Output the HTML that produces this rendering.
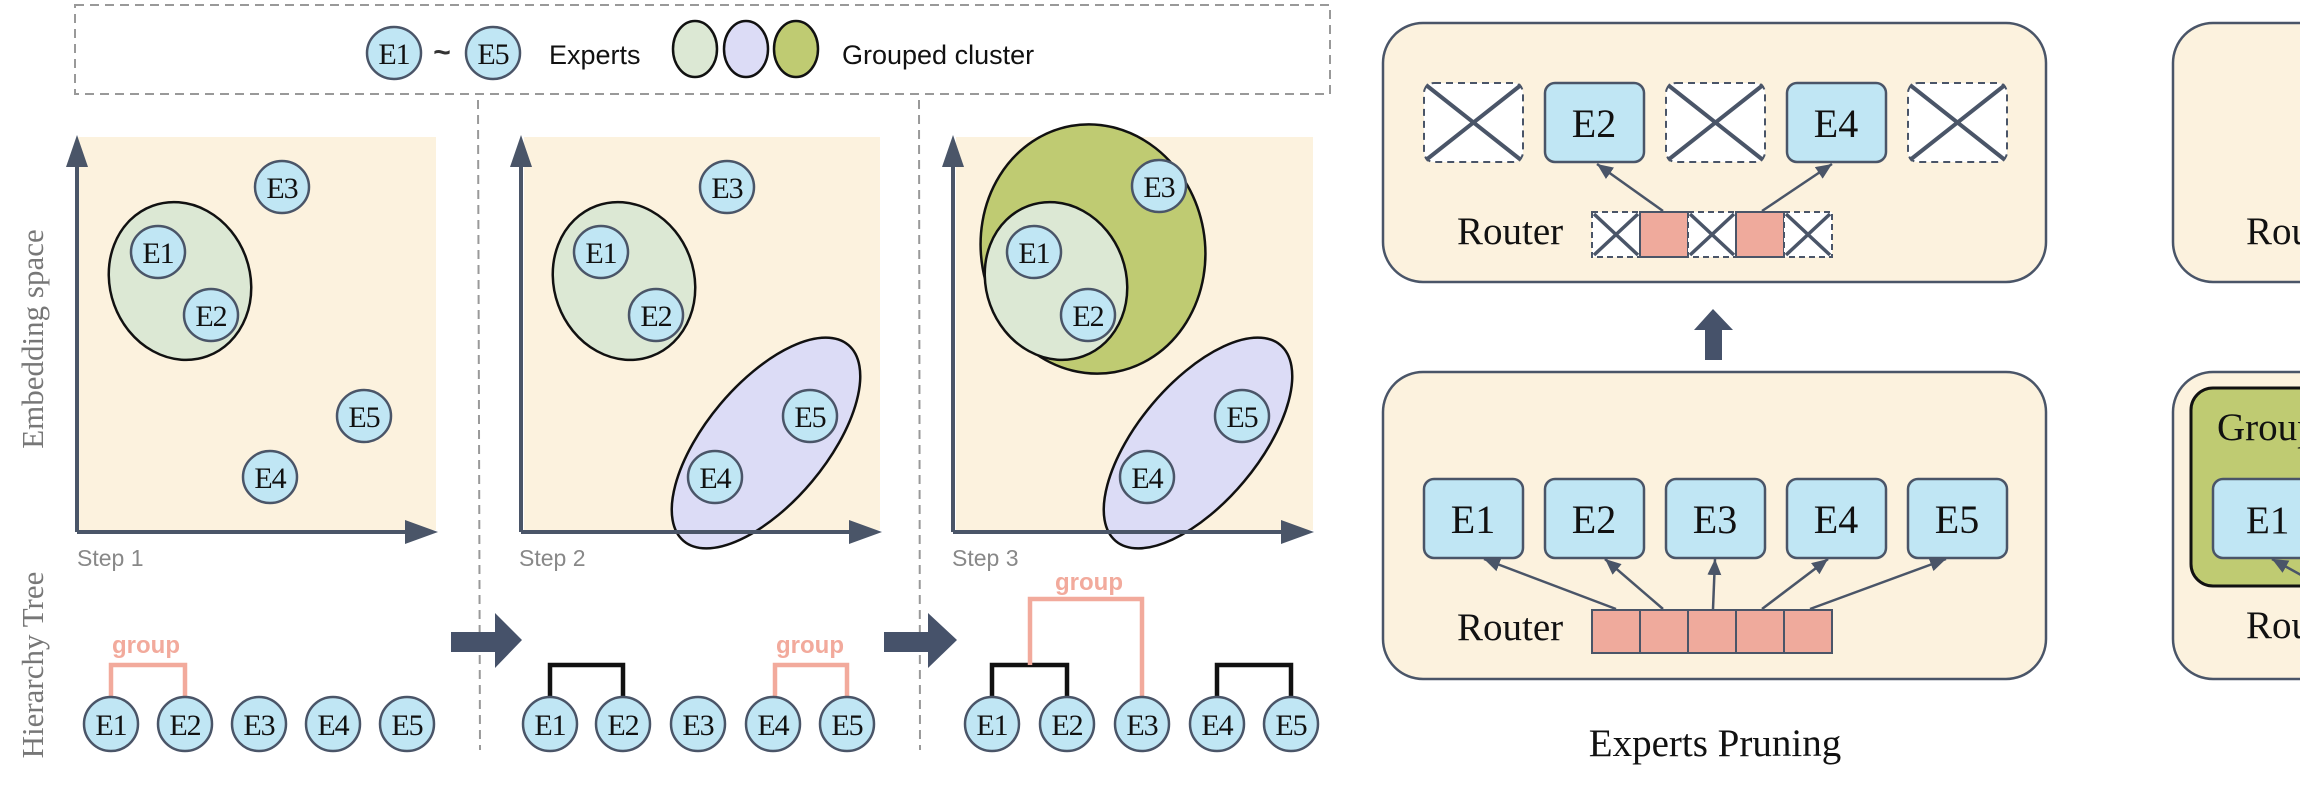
<!DOCTYPE html>
<html><head><meta charset="utf-8"><style>
html,body{margin:0;padding:0;background:#fff;}
svg{display:block;}
.e{fill:#c0e6f4;stroke:#4a5568;stroke-width:2.5;}
.t{font-family:"Liberation Serif",serif;font-size:30px;fill:#111;text-anchor:middle;letter-spacing:-1px;}
.bt{font-family:"Liberation Serif",serif;font-size:40px;fill:#111;text-anchor:middle;}
.big{font-family:"Liberation Serif",serif;font-size:39px;fill:#111;}
.step{font-family:"Liberation Sans",sans-serif;font-size:23px;fill:#888;}
.grp{font-family:"Liberation Sans",sans-serif;font-size:24px;font-weight:bold;fill:#f2aa9c;text-anchor:middle;}
.side{font-family:"Liberation Serif",serif;font-size:31px;fill:#777;text-anchor:middle;}
</style></head><body>
<svg width="2300" height="787" viewBox="0 0 2300 787" xmlns="http://www.w3.org/2000/svg">
<defs>
<marker id="ah" markerWidth="20" markerHeight="20" refX="0" refY="0" orient="auto" markerUnits="userSpaceOnUse" viewBox="-16 -8 20 16">
<path d="M-16,-7 L0,0 L-16,7 z" fill="#4a5568"/>
</marker>
</defs>
<!-- legend -->
<rect x="75" y="5" width="1255" height="89" fill="none" stroke="#999" stroke-width="2" stroke-dasharray="9,6"/>
<ellipse cx="394" cy="53" rx="27" ry="26" class="e"/><text x="394" y="64" class="t">E1</text>
<text x="442" y="62" font-family="Liberation Sans,sans-serif" font-size="30" text-anchor="middle" font-weight="bold" fill="#333">~</text>
<ellipse cx="493" cy="53" rx="27" ry="26" class="e"/><text x="493" y="64" class="t">E5</text>
<text x="549" y="64" font-family="Liberation Sans,sans-serif" font-size="27" fill="#111">Experts</text>
<ellipse cx="695" cy="49" rx="22" ry="28" fill="#dce8d4" stroke="#111" stroke-width="2.5"/>
<ellipse cx="746" cy="49" rx="22" ry="28" fill="#dcdcf6" stroke="#111" stroke-width="2.5"/>
<ellipse cx="796" cy="49" rx="22" ry="28" fill="#bfcb72" stroke="#111" stroke-width="2.5"/>
<text x="842" y="64" font-family="Liberation Sans,sans-serif" font-size="27" fill="#111">Grouped cluster</text>
<!-- separators -->
<line x1="478" y1="100" x2="480" y2="750" stroke="#999" stroke-width="2" stroke-dasharray="9,6"/>
<line x1="919" y1="100" x2="920" y2="750" stroke="#999" stroke-width="2" stroke-dasharray="9,6"/>
<!-- side labels -->
<text class="side" transform="translate(43,339) rotate(-90)">Embedding space</text>
<text class="side" transform="translate(43,665) rotate(-90)">Hierarchy Tree</text>

<!-- Panel 1 -->
<g>
<rect x="78" y="137" width="358" height="393" fill="#fcf2de"/>
<ellipse cx="180" cy="281" rx="70" ry="80" transform="rotate(-20 180 281)" fill="#dce8d4" stroke="#111" stroke-width="2.5"/>
<path d="M77,532 V150" stroke="#4a5568" stroke-width="4" fill="none"/><path d="M66,167 L77,135 L88,167 z" fill="#4a5568"/>
<path d="M77,532 H420" stroke="#4a5568" stroke-width="4" fill="none"/><path d="M405,520 L438,532 L405,544 z" fill="#4a5568"/>
<ellipse cx="282" cy="187" rx="27" ry="26" class="e"/><text x="282" y="198" class="t">E3</text>
<ellipse cx="158" cy="252" rx="27" ry="26" class="e"/><text x="158" y="263" class="t">E1</text>
<ellipse cx="211" cy="315" rx="27" ry="26" class="e"/><text x="211" y="326" class="t">E2</text>
<ellipse cx="364" cy="416" rx="27" ry="26" class="e"/><text x="364" y="427" class="t">E5</text>
<ellipse cx="270" cy="477" rx="27" ry="26" class="e"/><text x="270" y="488" class="t">E4</text>
<text x="77" y="566" class="step">Step 1</text>
</g>
<!-- Panel 2 -->
<g>
<rect x="524" y="137" width="356" height="393" fill="#fcf2de"/>
<ellipse cx="624" cy="281" rx="70" ry="80" transform="rotate(-20 624 281)" fill="#dce8d4" stroke="#111" stroke-width="2.5"/>
<ellipse cx="766" cy="443" rx="128" ry="60" transform="rotate(-50 766 443)" fill="#dcdcf6" stroke="#111" stroke-width="2.5"/>
<path d="M521,532 V150" stroke="#4a5568" stroke-width="4" fill="none"/><path d="M510,167 L521,135 L532,167 z" fill="#4a5568"/>
<path d="M521,532 H864" stroke="#4a5568" stroke-width="4" fill="none"/><path d="M849,520 L882,532 L849,544 z" fill="#4a5568"/>
<ellipse cx="727" cy="187" rx="27" ry="26" class="e"/><text x="727" y="198" class="t">E3</text>
<ellipse cx="601" cy="252" rx="27" ry="26" class="e"/><text x="601" y="263" class="t">E1</text>
<ellipse cx="656" cy="315" rx="27" ry="26" class="e"/><text x="656" y="326" class="t">E2</text>
<ellipse cx="810" cy="416" rx="27" ry="26" class="e"/><text x="810" y="427" class="t">E5</text>
<ellipse cx="715" cy="477" rx="27" ry="26" class="e"/><text x="715" y="488" class="t">E4</text>
<text x="519" y="566" class="step">Step 2</text>
</g>
<!-- Panel 3 -->
<g>
<rect x="956" y="137" width="357" height="393" fill="#fcf2de"/>
<ellipse cx="1093" cy="249" rx="112" ry="125" transform="rotate(-10 1093 249)" fill="#bfcb72" stroke="#111" stroke-width="2.5"/>
<ellipse cx="1056" cy="281" rx="70" ry="80" transform="rotate(-20 1056 281)" fill="#dce8d4" stroke="#111" stroke-width="2.5"/>
<ellipse cx="1198" cy="443" rx="128" ry="60" transform="rotate(-50 1198 443)" fill="#dcdcf6" stroke="#111" stroke-width="2.5"/>
<path d="M953,532 V150" stroke="#4a5568" stroke-width="4" fill="none"/><path d="M942,167 L953,135 L964,167 z" fill="#4a5568"/>
<path d="M953,532 H1296" stroke="#4a5568" stroke-width="4" fill="none"/><path d="M1281,520 L1314,532 L1281,544 z" fill="#4a5568"/>
<ellipse cx="1159" cy="186" rx="27" ry="26" class="e"/><text x="1159" y="197" class="t">E3</text>
<ellipse cx="1034" cy="252" rx="27" ry="26" class="e"/><text x="1034" y="263" class="t">E1</text>
<ellipse cx="1088" cy="315" rx="27" ry="26" class="e"/><text x="1088" y="326" class="t">E2</text>
<ellipse cx="1242" cy="416" rx="27" ry="26" class="e"/><text x="1242" y="427" class="t">E5</text>
<ellipse cx="1147" cy="477" rx="27" ry="26" class="e"/><text x="1147" y="488" class="t">E4</text>
<text x="952" y="566" class="step">Step 3</text>
</g>

<!-- big arrows -->
<path d="M451,632 H495 V613 L522,640 L495,668 V652 H451 z" fill="#46526a"/>
<path d="M884,632 H928 V613 L957,640 L928,668 V652 H884 z" fill="#46526a"/>

<!-- Trees -->
<g fill="none" stroke-width="4.5">
<path d="M111,698 V665 H185 V698" stroke="#f2aa9c"/>
<path d="M550,698 V665 H623 V698" stroke="#111"/>
<path d="M775,698 V665 H847 V698" stroke="#f2aa9c"/>
<path d="M992,698 V665 H1067 V698" stroke="#111"/>
<path d="M1030,665 V599 H1142 V698" stroke="#f2aa9c"/>
<path d="M1217,698 V665 H1291 V698" stroke="#111"/>
</g>
<text x="146" y="653" class="grp">group</text>
<text x="810" y="653" class="grp">group</text>
<text x="1089" y="590" class="grp">group</text>
<g>
<ellipse cx="111" cy="724" rx="27" ry="27" class="e"/><text x="111" y="735" class="t">E1</text>
<ellipse cx="185" cy="724" rx="27" ry="27" class="e"/><text x="185" y="735" class="t">E2</text>
<ellipse cx="259" cy="724" rx="27" ry="27" class="e"/><text x="259" y="735" class="t">E3</text>
<ellipse cx="333" cy="724" rx="27" ry="27" class="e"/><text x="333" y="735" class="t">E4</text>
<ellipse cx="407" cy="724" rx="27" ry="27" class="e"/><text x="407" y="735" class="t">E5</text>
<ellipse cx="550" cy="724" rx="27" ry="27" class="e"/><text x="550" y="735" class="t">E1</text>
<ellipse cx="623" cy="724" rx="27" ry="27" class="e"/><text x="623" y="735" class="t">E2</text>
<ellipse cx="698" cy="724" rx="27" ry="27" class="e"/><text x="698" y="735" class="t">E3</text>
<ellipse cx="773" cy="724" rx="27" ry="27" class="e"/><text x="773" y="735" class="t">E4</text>
<ellipse cx="847" cy="724" rx="27" ry="27" class="e"/><text x="847" y="735" class="t">E5</text>
<ellipse cx="992" cy="724" rx="27" ry="27" class="e"/><text x="992" y="735" class="t">E1</text>
<ellipse cx="1067" cy="724" rx="27" ry="27" class="e"/><text x="1067" y="735" class="t">E2</text>
<ellipse cx="1142" cy="724" rx="27" ry="27" class="e"/><text x="1142" y="735" class="t">E3</text>
<ellipse cx="1217" cy="724" rx="27" ry="27" class="e"/><text x="1217" y="735" class="t">E4</text>
<ellipse cx="1291" cy="724" rx="27" ry="27" class="e"/><text x="1291" y="735" class="t">E5</text>
</g>

<!-- Experts Pruning: top box -->
<rect x="1383" y="23" width="663" height="259" rx="40" fill="#fcf2de" stroke="#4a5568" stroke-width="2.5"/>
<g stroke="#4a5568">
<rect x="1424" y="83" width="99" height="79" rx="10" fill="#fff" stroke-width="2" stroke-dasharray="7,5"/>
<path d="M1426,85 L1521,160 M1521,85 L1426,160" stroke-width="4"/>
<rect x="1545" y="83" width="99" height="79" rx="10" fill="#c0e6f4" stroke-width="2.5"/>
<rect x="1666" y="83" width="99" height="79" rx="10" fill="#fff" stroke-width="2" stroke-dasharray="7,5"/>
<path d="M1668,85 L1763,160 M1763,85 L1668,160" stroke-width="4"/>
<rect x="1787" y="83" width="99" height="79" rx="10" fill="#c0e6f4" stroke-width="2.5"/>
<rect x="1908" y="83" width="99" height="79" rx="10" fill="#fff" stroke-width="2" stroke-dasharray="7,5"/>
<path d="M1910,85 L2005,160 M2005,85 L1910,160" stroke-width="4"/>
</g>
<text x="1594" y="137" class="bt">E2</text>
<text x="1836" y="137" class="bt">E4</text>
<text x="1457" y="244" class="big">Router</text>
<g stroke="#4a5568">
<rect x="1592" y="212" width="48" height="45" fill="#fff" stroke-width="2" stroke-dasharray="6,4"/>
<path d="M1594,214 L1638,255 M1638,214 L1594,255" stroke-width="3.5"/>
<rect x="1640" y="212" width="48" height="45" fill="#efaa9c" stroke-width="2"/>
<rect x="1688" y="212" width="48" height="45" fill="#fff" stroke-width="2" stroke-dasharray="6,4"/>
<path d="M1690,214 L1734,255 M1734,214 L1690,255" stroke-width="3.5"/>
<rect x="1736" y="212" width="48" height="45" fill="#efaa9c" stroke-width="2"/>
<rect x="1784" y="212" width="48" height="45" fill="#fff" stroke-width="2" stroke-dasharray="6,4"/>
<path d="M1786,214 L1830,255 M1830,214 L1786,255" stroke-width="3.5"/>
<line x1="1663" y1="211" x2="1597" y2="164" stroke-width="2.5" marker-end="url(#ah)"/>
<line x1="1762" y1="211" x2="1832" y2="164" stroke-width="2.5" marker-end="url(#ah)"/>
</g>
<!-- up arrow -->
<path d="M1705,360 V330 H1694 L1713,309 L1733,330 H1722 V360 z" fill="#46526a"/>
<!-- bottom box -->
<rect x="1383" y="372" width="663" height="307" rx="40" fill="#fcf2de" stroke="#4a5568" stroke-width="2.5"/>
<g stroke="#4a5568" stroke-width="2.5" fill="#c0e6f4">
<rect x="1424" y="479" width="99" height="79" rx="10"/>
<rect x="1545" y="479" width="99" height="79" rx="10"/>
<rect x="1666" y="479" width="99" height="79" rx="10"/>
<rect x="1787" y="479" width="99" height="79" rx="10"/>
<rect x="1908" y="479" width="99" height="79" rx="10"/>
</g>
<text x="1473" y="533" class="bt">E1</text>
<text x="1594" y="533" class="bt">E2</text>
<text x="1715" y="533" class="bt">E3</text>
<text x="1836" y="533" class="bt">E4</text>
<text x="1957" y="533" class="bt">E5</text>
<text x="1457" y="640" class="big">Router</text>
<g stroke="#4a5568" stroke-width="2" fill="#efaa9c">
<rect x="1592" y="610" width="48" height="43"/>
<rect x="1640" y="610" width="48" height="43"/>
<rect x="1688" y="610" width="48" height="43"/>
<rect x="1736" y="610" width="48" height="43"/>
<rect x="1784" y="610" width="48" height="43"/>
</g>
<g stroke="#4a5568" stroke-width="2.5">
<line x1="1616" y1="609" x2="1484" y2="559" marker-end="url(#ah)"/>
<line x1="1663" y1="609" x2="1605" y2="559" marker-end="url(#ah)"/>
<line x1="1713" y1="609" x2="1715" y2="559" marker-end="url(#ah)"/>
<line x1="1762" y1="609" x2="1828" y2="559" marker-end="url(#ah)"/>
<line x1="1810" y1="609" x2="1946" y2="559" marker-end="url(#ah)"/>
</g>
<text x="1715" y="756" class="big" text-anchor="middle">Experts Pruning</text>

<!-- far right -->
<rect x="2173" y="23" width="200" height="259" rx="40" fill="#fcf2de" stroke="#4a5568" stroke-width="2.5"/>
<text x="2246" y="244" class="big">Router</text>
<rect x="2173" y="372" width="200" height="307" rx="40" fill="#fcf2de" stroke="#4a5568" stroke-width="2.5"/>
<rect x="2191" y="388" width="200" height="198" rx="22" fill="#bfcb72" stroke="#111" stroke-width="3"/>
<text x="2217" y="440" class="big">Group</text>
<rect x="2213" y="479" width="120" height="79" rx="10" fill="#c0e6f4" stroke="#4a5568" stroke-width="2.5"/>
<text x="2246" y="533" class="big">E1</text>
<line x1="2310" y1="580" x2="2272" y2="559" stroke="#4a5568" stroke-width="2.5" marker-end="url(#ah)"/>
<text x="2246" y="638" class="big">Router</text>
</svg>
</body></html>
